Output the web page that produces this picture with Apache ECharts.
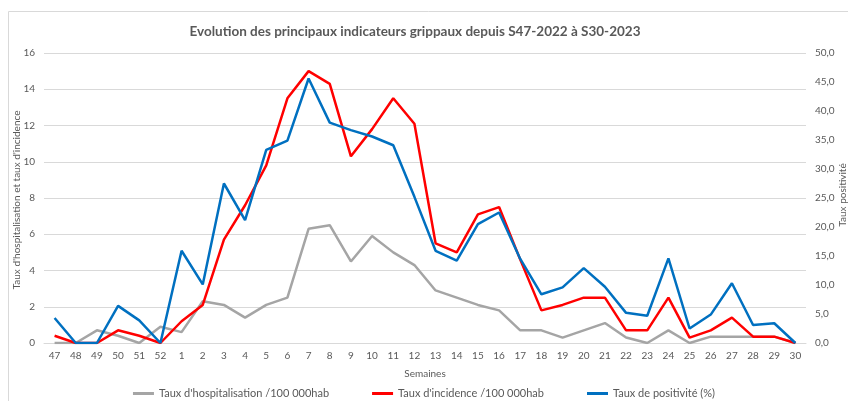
<!DOCTYPE html>
<html>
<head>
<meta charset="utf-8">
<script src="https://cdn.jsdelivr.net/npm/echarts@6/dist/echarts.min.js"></script>
<style>
html,body{margin:0;padding:0;background:#fff;}
#chart{width:848px;height:401px;}
</style>
</head>
<body>
<div id="chart"></div>
<script>
const weeks = ['47','48','49','50','51','52','1','2','3','4','5','6','7','8','9','10','11','12','13','14','15','16','17','18','19','20','21','22','23','24','25','26','27','28','29','30'];
const hospitalisation = [0,0,0.7,0.4,0,0.9,0.6,2.3,2.1,1.4,2.1,2.5,6.3,6.5,4.5,5.9,5.0,4.3,2.9,2.5,2.1,1.8,0.7,0.7,0.3,0.7,1.1,0.3,0,0.7,0,0.35,0.35,0.35,0.35,0];
const incidence = [0.4,0,0,0.7,0.4,0,1.2,2.1,5.7,7.6,9.8,13.5,15.0,14.3,10.3,11.8,13.5,12.1,5.5,5.0,7.1,7.5,4.6,1.8,2.1,2.5,2.5,0.7,0.7,2.5,0.3,0.7,1.4,0.35,0.35,0];
const positivite = [4.3,0,0,6.4,3.9,0,15.9,10.1,27.5,21.2,33.3,34.9,45.6,38.0,36.7,35.6,34.1,25.2,15.9,14.2,20.5,22.5,14.5,8.4,9.6,12.9,9.7,5.2,4.7,14.6,2.5,4.9,10.3,3.1,3.4,0];
const leftTicks = {min:0,max:16,interval:2};
const rightTicks = {min:0,max:50,interval:5};
const names = ["Taux d'hospitalisation /100 000hab","Taux d'incidence /100 000hab","Taux de positivité (%)"];
const leftAxisName = "Taux d'hospitalisation et taux d'incidence";
const rightAxisName = 'Taux positivité';

const font = 'Lato, "Liberation Sans", sans-serif';
const txt = '#595959';
const chart = echarts.init(document.getElementById('chart'));
chart.setOption({
  animation:false,
  textStyle:{fontFamily:font},
  graphic:[
    {type:'rect',shape:{x:8.5,y:11.5,width:860,height:420},style:{fill:'none',stroke:'#d9d9d9',lineWidth:1},silent:true,z:-1},
    {type:'text',x:17,y:200,rotation:Math.PI/2,style:{text:leftAxisName,fill:txt,font:'10px '+font,textAlign:'center',textVerticalAlign:'middle'}},
    {type:'text',x:843,y:195,rotation:Math.PI/2,style:{text:rightAxisName,fill:txt,font:'10px '+font,textAlign:'center',textVerticalAlign:'middle'}}
  ],
  title:{text:'Evolution des principaux indicateurs grippaux depuis S47-2022 à S30-2023',left:410,textAlign:'center',top:20,
    textStyle:{fontFamily:font,fontSize:13.5,fontWeight:'bold',color:txt}},
  grid:{left:44,right:42,top:53,bottom:58,containLabel:false,outerBoundsMode:'none'},
  legend:{top:383,left:'center',itemWidth:21,itemHeight:3,itemGap:43,icon:'rect',
    textStyle:{fontFamily:font,fontSize:11,color:txt},data:names},
  xAxis:{type:'category',data:weeks,boundaryGap:true,
    name:'Semaines',nameLocation:'middle',nameGap:26,nameTextStyle:{fontSize:10,color:txt,fontFamily:font},
    axisLine:{lineStyle:{color:'#d9d9d9',width:1}},axisTick:{show:false},
    axisLabel:{color:txt,fontSize:10,margin:8,interval:0}},
  yAxis:[
    {type:'value',min:leftTicks.min,max:leftTicks.max,interval:leftTicks.interval,
     axisLine:{show:false},axisTick:{show:false},
     axisLabel:{color:txt,fontSize:10,margin:9},
     splitLine:{lineStyle:{color:'#d9d9d9',width:1}}},
    {type:'value',min:rightTicks.min,max:rightTicks.max,interval:rightTicks.interval,
     axisLine:{show:false},axisTick:{show:false},
     axisLabel:{color:txt,fontSize:10,margin:9,formatter:v=>v.toFixed(1).replace('.',',')},
     splitLine:{show:false}}
  ],
  series:[
    {name:names[0],type:'line',data:hospitalisation,yAxisIndex:0,symbol:'none',color:'#A5A5A5',lineStyle:{width:2.5,color:'#A5A5A5'},z:1},
    {name:names[1],type:'line',data:incidence,yAxisIndex:0,symbol:'none',color:'#FF0000',lineStyle:{width:2.5,color:'#FF0000'},z:2},
    {name:names[2],type:'line',data:positivite,yAxisIndex:1,symbol:'none',color:'#0070C0',lineStyle:{width:2.5,color:'#0070C0'},z:3}
  ]
});
</script>
</body>
</html>
